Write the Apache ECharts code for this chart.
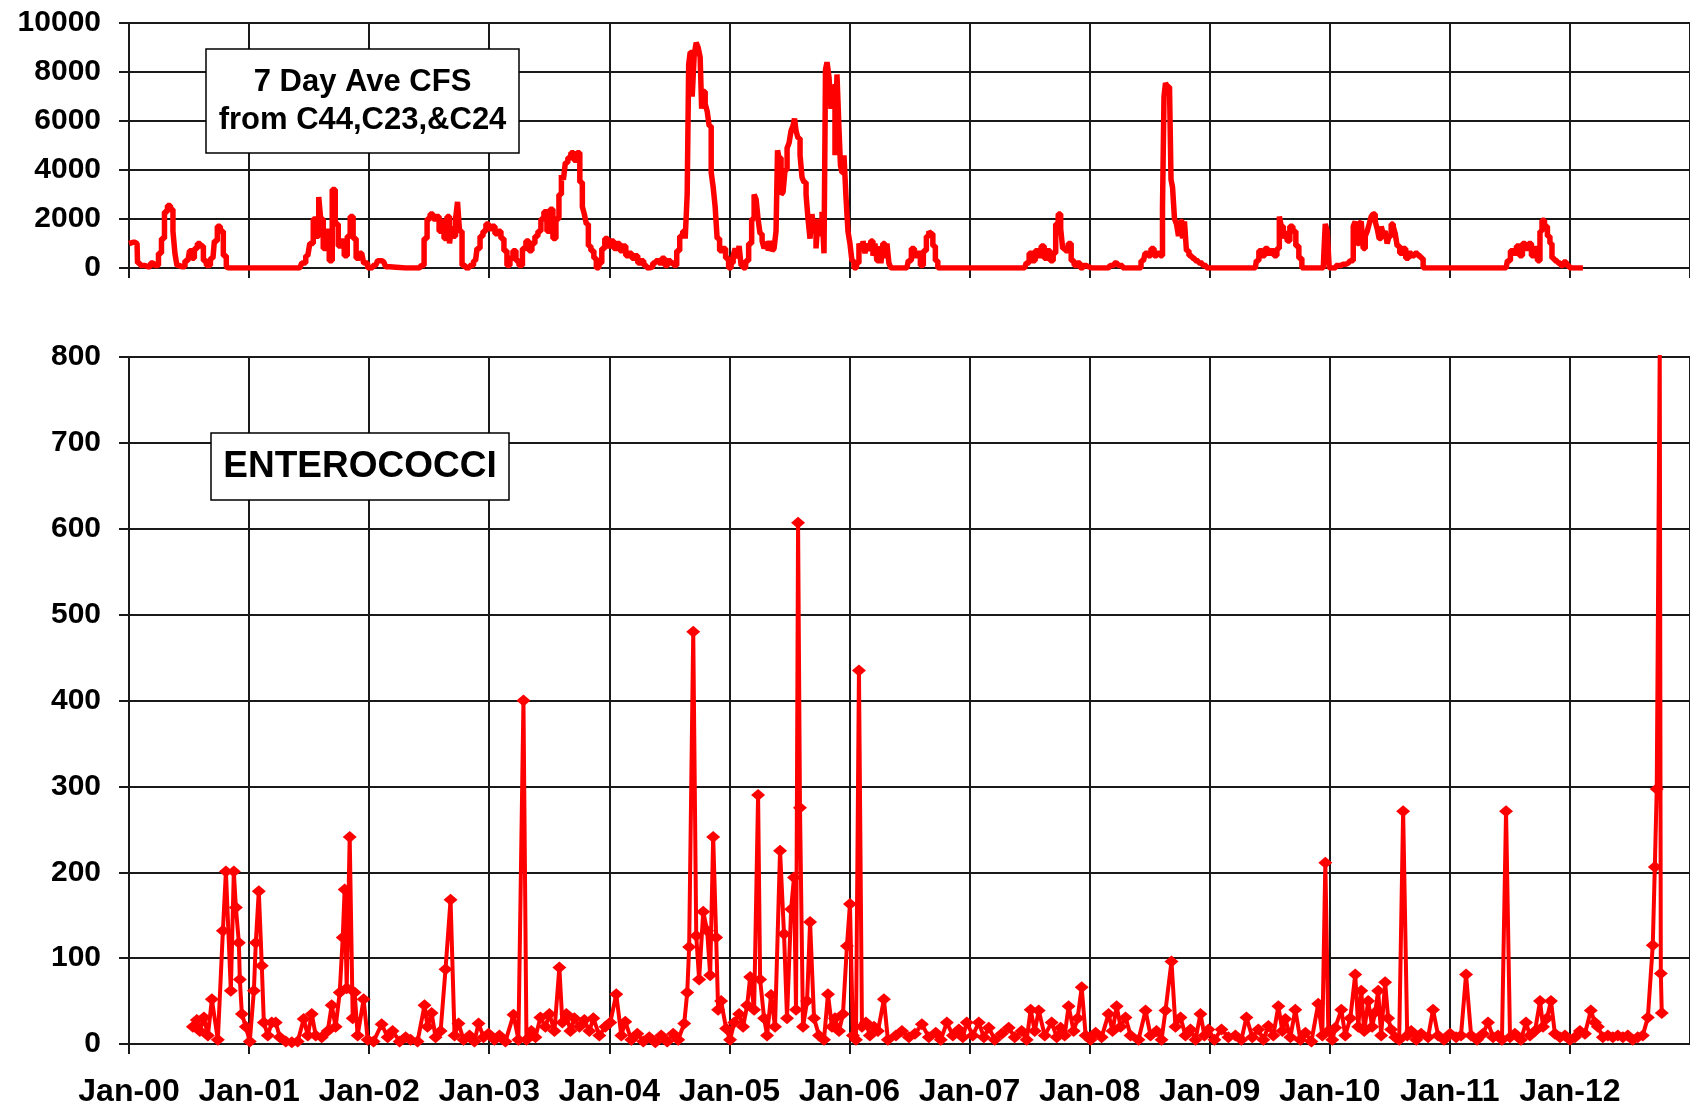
<!DOCTYPE html>
<html>
<head>
<meta charset="utf-8">
<script src="https://cdn.jsdelivr.net/npm/echarts@6/dist/echarts.min.js"></script>
<style>
html,body{margin:0;padding:0;background:#fff;}
#chart{width:1690px;height:1108px;}
</style>
</head>
<body>
<div id="chart"></div>
<script>
// ---- Data ----
// Year tick labels (x axis)
const yearTicks = [2000,2001,2002,2003,2004,2005,2006,2007,2008,2009,2010,2011,2012];

// 7 Day Ave CFS (top panel): time in decimal years, flow values
const flowYear = [
2000.000,2000.033,2000.067,2000.075,2000.108,2000.158,2000.200,2000.233,2000.258,2000.283,2000.308,2000.333,2000.358,2000.374,2000.391,2000.407,2000.441,2000.491,2000.516,2000.532,2000.557,2000.582,2000.607,2000.632,2000.657,2000.699,2000.723,2000.748,2000.773,2000.798,2000.823,2000.832,
2001.422,2001.455,2001.489,2001.522,2001.547,2001.572,2001.588,2001.605,2001.630,2001.655,2001.680,2001.705,2001.730,2001.755,2001.780,2001.805,2001.830,2001.854,2001.879,2001.904,2001.938,2001.971,2002.004,2002.054,2002.087,2002.121,2002.154,2002.187,
2002.420,2002.445,2002.470,2002.495,2002.520,2002.545,2002.570,2002.595,2002.611,2002.636,2002.661,2002.678,2002.694,2002.711,2002.728,2002.744,2002.761,2002.786,2002.819,2002.852,2002.886,2002.911,2002.936,2002.960,2002.985,
2003.010,2003.035,2003.060,2003.085,2003.110,2003.135,2003.160,2003.185,2003.210,2003.235,2003.260,2003.293,2003.318,2003.343,2003.368,2003.393,2003.418,2003.443,2003.468,2003.493,2003.518,2003.543,2003.568,2003.593,2003.609,2003.626,2003.642,2003.667,2003.692,2003.717,2003.742,2003.767,2003.784,2003.800,2003.817,2003.834,2003.859,2003.884,2003.900,2003.925,2003.950,2003.975,
2004.000,2004.025,2004.050,2004.075,2004.100,2004.125,2004.150,2004.175,2004.200,2004.225,2004.249,2004.274,2004.299,2004.324,2004.349,2004.374,2004.399,2004.424,2004.449,2004.474,2004.499,2004.524,2004.549,2004.574,2004.599,2004.624,2004.640,2004.657,2004.665,2004.682,2004.699,2004.715,2004.732,2004.748,2004.765,2004.773,2004.790,2004.807,2004.823,2004.840,2004.857,2004.873,2004.890,2004.906,2004.931,2004.956,2004.981,
2005.006,2005.023,2005.040,2005.056,2005.073,2005.089,2005.106,2005.123,2005.148,2005.173,2005.198,2005.214,2005.231,2005.247,2005.264,2005.281,2005.297,2005.314,2005.331,2005.347,2005.364,2005.380,2005.397,2005.405,2005.422,2005.439,2005.455,2005.472,2005.489,2005.505,2005.522,2005.538,2005.547,2005.563,2005.580,2005.597,2005.613,2005.630,2005.647,2005.663,2005.680,2005.696,2005.713,2005.730,2005.746,2005.763,2005.780,2005.796,2005.805,2005.821,2005.838,2005.854,2005.871,2005.888,2005.904,2005.921,2005.929,2005.946,2005.963,2005.979,2005.996,
2006.012,2006.029,2006.046,2006.071,2006.087,2006.104,2006.121,2006.137,2006.154,2006.170,2006.187,2006.204,2006.220,2006.237,2006.254,2006.270,2006.287,2006.304,2006.320,2006.337,2006.353,2006.478,2006.503,2006.528,2006.553,2006.578,2006.603,2006.628,2006.653,2006.669,2006.686,2006.703,2006.728,2006.744,
2007.459,2007.484,2007.509,2007.534,2007.559,2007.584,2007.609,2007.634,2007.659,2007.684,2007.709,2007.726,2007.751,2007.767,2007.784,2007.809,2007.834,2007.859,2007.884,2007.909,2007.934,2007.958,2007.992,2008.017,
2008.158,2008.183,2008.225,2008.258,2008.291,2008.407,2008.449,2008.474,2008.499,2008.524,2008.549,2008.574,2008.599,2008.615,2008.624,2008.640,2008.657,2008.674,2008.682,2008.699,2008.715,2008.732,2008.748,2008.765,2008.782,2008.798,2008.815,2008.840,2008.865,2008.890,2008.923,2008.956,2008.990,
2009.380,2009.397,2009.422,2009.447,2009.472,2009.497,2009.522,2009.547,2009.572,2009.588,2009.605,2009.622,2009.638,2009.655,2009.680,2009.705,2009.730,2009.755,2009.780,2009.946,2009.954,2009.971,2009.987,
2010.004,2010.029,2010.071,2010.112,2010.154,2010.187,2010.204,2010.220,2010.237,2010.254,2010.270,2010.287,2010.304,2010.320,2010.337,2010.353,2010.370,2010.387,2010.403,2010.420,2010.437,2010.453,2010.470,2010.486,2010.503,2010.520,2010.537,2010.553,2010.570,2010.595,2010.620,2010.645,2010.670,2010.695,2010.720,2010.744,2010.769,2010.786,
2011.468,2011.492,2011.517,2011.542,2011.567,2011.592,2011.617,2011.642,2011.667,2011.692,2011.717,2011.742,2011.759,2011.776,2011.800,2011.825,2011.842,2011.859,2011.884,2011.909,2011.934,2011.959,2011.983,2012.008,2012.108
];
const flowCfs = [
1000,1050,1000,200,100,50,200,100,600,1200,2300,2550,2400,1500,600,100,50,300,700,400,800,1000,900,300,100,400,1100,1700,1500,500,50,0,
0,200,500,1000,2000,1300,2900,2000,800,1500,300,3200,1800,900,1100,500,1300,2100,1200,400,600,200,0,100,300,250,50,0,
0,100,1200,2000,2200,2000,2100,1500,1900,1200,2100,1000,1700,1300,2000,2700,1500,100,0,100,300,800,1300,1500,1800,
1600,1700,1400,1500,1200,700,100,400,700,300,100,800,1100,700,1000,1300,1500,2000,2300,1500,2400,1200,2000,3000,3800,3600,4300,4500,4700,4400,4700,3500,2500,2200,1800,900,700,400,0,200,800,1200,
900,1100,800,1000,700,900,500,600,400,500,200,300,100,0,50,200,300,200,400,100,300,200,100,700,1300,1500,1200,3000,8300,8800,7000,8700,9200,9000,8600,6500,7200,6700,6400,5800,3900,3300,2500,1200,700,800,400,
0,200,500,800,400,900,100,0,300,1000,2000,3000,2800,2000,1400,1100,800,1000,700,1100,700,800,1500,4800,4500,3000,3100,4000,4900,5100,5600,5800,6100,5600,5300,4600,3700,3500,3000,2000,1200,2200,1500,800,2000,1400,2300,600,8100,8400,7800,6500,7400,4600,7900,5700,4200,3900,4600,2900,1500,
1000,300,0,200,1000,800,1100,600,1000,700,1100,500,1000,300,900,200,1000,400,1000,200,0,0,300,800,500,600,100,700,1300,1500,1400,900,300,0,
0,200,600,300,700,500,900,400,700,300,600,1800,2200,1600,800,700,1000,300,100,200,0,100,50,0,
0,100,200,100,0,0,300,600,500,800,500,600,500,2500,7000,7550,7400,7300,3600,3300,2000,1800,1300,1900,1200,1900,700,500,400,300,200,100,0,
0,300,700,500,800,600,700,500,800,2100,1700,1200,1500,1100,1700,1500,900,400,0,0,500,1800,1500,
0,0,100,150,200,300,1700,1900,1000,1800,1900,800,1300,1500,1800,2100,2200,1900,1600,1200,1700,1400,1500,1000,1300,1800,1700,1400,900,600,800,400,600,500,600,500,400,0,
0,300,700,600,900,500,1000,800,1000,500,800,300,1500,1950,1700,1300,1000,400,300,200,100,250,100,0,0
];

// ENTEROCOCCI (bottom panel): sample time in decimal years, counts
const enteroYear = [
2000.532,2000.565,2000.590,2000.624,2000.657,2000.690,2000.740,2000.782,2000.807,2000.848,2000.873,2000.890,2000.915,2000.923,2000.940,2000.973,
2001.006,2001.040,2001.056,2001.081,2001.106,2001.123,2001.156,2001.189,2001.222,2001.256,2001.306,2001.356,2001.405,2001.455,2001.489,2001.522,2001.555,2001.605,2001.655,2001.688,2001.721,2001.755,2001.780,2001.796,2001.813,2001.838,2001.863,2001.879,2001.904,2001.954,2001.988,
2002.037,2002.104,2002.154,2002.195,2002.254,2002.304,2002.345,2002.403,2002.461,2002.486,2002.520,2002.553,2002.595,2002.636,2002.678,2002.711,2002.744,2002.786,2002.836,2002.877,2002.911,2002.952,2002.994,
2003.044,2003.085,2003.135,2003.202,2003.243,2003.285,2003.310,2003.351,2003.385,2003.426,2003.468,2003.501,2003.543,2003.584,2003.609,2003.642,2003.676,2003.709,2003.751,2003.792,2003.834,2003.867,2003.917,2003.967,
2004.008,2004.058,2004.100,2004.133,2004.183,2004.233,2004.283,2004.333,2004.383,2004.432,2004.482,2004.532,2004.574,2004.624,2004.649,2004.665,2004.699,2004.724,2004.748,2004.782,2004.815,2004.840,2004.865,2004.890,2004.906,2004.931,2004.973,
2005.006,2005.040,2005.081,2005.114,2005.148,2005.173,2005.206,2005.239,2005.256,2005.289,2005.314,2005.347,2005.380,2005.422,2005.455,2005.480,2005.514,2005.538,2005.555,2005.572,2005.588,2005.613,2005.647,2005.672,2005.705,2005.746,2005.788,2005.821,2005.854,2005.879,2005.913,2005.946,2005.979,
2006.004,2006.029,2006.054,2006.079,2006.104,2006.137,2006.170,2006.204,2006.237,2006.287,2006.320,2006.387,2006.437,2006.495,2006.545,2006.603,2006.661,2006.719,2006.761,2006.811,2006.861,2006.911,2006.944,2006.977,
2007.027,2007.077,2007.119,2007.160,2007.210,2007.268,2007.326,2007.376,2007.434,2007.476,2007.509,2007.543,2007.576,2007.626,2007.684,2007.726,2007.759,2007.792,2007.825,2007.867,2007.900,2007.934,2007.967,
2008.008,2008.050,2008.100,2008.158,2008.191,2008.225,2008.258,2008.299,2008.341,2008.407,2008.466,2008.507,2008.557,2008.599,2008.632,2008.682,2008.715,2008.757,2008.798,2008.840,2008.882,2008.923,2008.956,2008.990,
2009.040,2009.098,2009.156,2009.214,2009.264,2009.306,2009.355,2009.405,2009.447,2009.489,2009.530,2009.572,2009.605,2009.630,2009.672,2009.713,2009.755,2009.797,2009.847,2009.904,2009.938,2009.963,2009.988,
2010.021,2010.046,2010.096,2010.129,2010.171,2010.212,2010.237,2010.262,2010.287,2010.320,2010.353,2010.378,2010.403,2010.428,2010.461,2010.486,2010.511,2010.545,2010.578,2010.611,2010.645,2010.678,2010.720,2010.761,2010.819,2010.860,2010.902,2010.952,
2011.002,2011.052,2011.093,2011.135,2011.177,2011.226,2011.276,2011.318,2011.360,2011.401,2011.434,2011.468,2011.501,2011.542,2011.592,2011.634,2011.667,2011.709,2011.751,2011.776,2011.809,2011.842,2011.875,2011.917,2011.959,
2012.000,2012.042,2012.083,2012.125,2012.174,2012.208,2012.233,2012.274,2012.316,2012.357,2012.399,2012.441,2012.482,2012.523,2012.565,2012.607,2012.649,2012.690,2012.707,2012.723,2012.748,2012.757,2012.765
];
const enteroCount = [
20,28,15,31,10,52,5,132,201,62,201,159,118,75,35,20,
3,62,118,178,91,25,10,25,25,8,3,2,3,29,10,35,10,8,15,45,20,60,124,180,65,241,30,60,10,52,5,
3,23,8,15,3,8,5,3,45,20,36,8,15,87,168,10,24,5,10,3,24,8,12,
5,10,3,34,5,400,5,15,8,31,20,35,15,89,25,35,15,30,20,28,15,30,10,20,
25,58,10,26,5,12,3,8,2,10,3,12,5,24,60,113,480,126,75,154,132,80,241,124,40,50,18,
5,25,35,20,45,78,40,290,75,30,10,57,20,225,128,30,157,194,40,607,275,20,50,142,30,10,5,58,20,30,15,35,114,
163,10,5,435,20,25,10,20,15,52,5,10,15,8,12,23,8,13,5,25,10,17,8,25,
10,25,8,19,5,12,19,8,15,5,40,15,39,10,25,8,19,10,44,15,30,66,10,
5,13,8,35,15,44,20,31,10,5,39,10,15,5,39,96,20,31,10,17,5,35,10,17,
5,17,8,10,5,31,8,17,5,21,10,44,15,29,8,40,5,13,3,47,10,211,15,
5,19,40,10,30,81,20,62,15,50,20,37,62,10,72,30,17,8,5,271,10,15,5,12,8,40,10,5,
12,8,10,81,10,5,12,25,8,10,5,271,8,12,5,25,10,15,50,20,30,50,12,8,10,
5,8,15,12,39,25,20,8,10,8,10,8,10,5,8,10,31,115,206,297,810,82,36
];

// ---- Build chart ----
const flowData = flowYear.map((t, i) => [t, flowCfs[i]]);
const enteroData = enteroYear.map((t, i) => [t, enteroCount[i]]);

const FONT = '"Liberation Sans", Arial, sans-serif';
const GRIDC = '#1a1a1a';
const yearFmt = v => (yearTicks.indexOf(v) >= 0 ? 'Jan-' + String(v % 100).padStart(2, '0') : '');

function xAxisCfg(gridIndex, showLabels) {
  return {
    type: 'value', gridIndex: gridIndex,
    min: 2000, max: 2013, interval: 1,
    axisLine: { show: true, onZero: false, lineStyle: { color: GRIDC, width: 2 } },
    axisTick: { show: true, inside: false, length: 10, lineStyle: { color: GRIDC, width: 2 } },
    axisLabel: {
      show: showLabels, formatter: yearFmt, showMaxLabel: false,
      fontFamily: FONT, fontWeight: 'bold', fontSize: 32, color: '#000', margin: 32
    },
    splitLine: { show: true, lineStyle: { color: GRIDC, width: 2 } }
  };
}
function yAxisCfg(gridIndex, max, interval) {
  return {
    type: 'value', gridIndex: gridIndex, min: 0, max: max, interval: interval,
    axisLine: { show: true, lineStyle: { color: GRIDC, width: 2 } },
    axisTick: { show: true, inside: false, length: 10, lineStyle: { color: GRIDC, width: 2 } },
    axisLabel: { fontFamily: FONT, fontWeight: 'bold', fontSize: 30, color: '#000', margin: 28,
                 formatter: v => String(v) },
    splitLine: { show: true, lineStyle: { color: GRIDC, width: 2 } }
  };
}

const chart = echarts.init(document.getElementById('chart'), null, { renderer: 'canvas' });
chart.setOption({
  backgroundColor: '#ffffff',
  animation: false,
  grid: [
    { left: 129, top: 23, width: 1563, height: 245 },
    { left: 129, top: 357, width: 1563, height: 688 }
  ],
  xAxis: [xAxisCfg(0, false), xAxisCfg(1, true)],
  yAxis: [yAxisCfg(0, 10000, 2000), yAxisCfg(1, 800, 100)],
  series: [
    {
      name: '7 Day Ave CFS', type: 'line', xAxisIndex: 0, yAxisIndex: 0,
      data: flowData, showSymbol: false, symbol: 'none', step: 'middle',
      lineStyle: { color: '#ff0000', width: 5.5, join: 'bevel' }, z: 5
    },
    {
      name: 'ENTEROCOCCI', type: 'line', xAxisIndex: 1, yAxisIndex: 1,
      data: enteroData, symbol: 'diamond', symbolSize: [14, 12], showSymbol: true,
      showAllSymbol: true,
      itemStyle: { color: '#ff0000' },
      lineStyle: { color: '#ff0000', width: 4, join: 'bevel' }, z: 5
    }
  ],
  graphic: [
    { type: 'rect', shape: { x: 206, y: 49, width: 313, height: 104 },
      style: { fill: '#ffffff', stroke: '#000000', lineWidth: 1.5 }, z: 100 },
    { type: 'text', x: 362.5, y: 101,
      style: { text: '7 Day Ave CFS\nfrom C44,C23,&C24', font: 'bold 31px ' + FONT,
               textAlign: 'center', textVerticalAlign: 'middle', lineHeight: 38, fill: '#000' }, z: 101 },
    { type: 'rect', shape: { x: 211, y: 433, width: 298, height: 67 },
      style: { fill: '#ffffff', stroke: '#000000', lineWidth: 1.5 }, z: 100 },
    { type: 'text', x: 360, y: 467,
      style: { text: 'ENTEROCOCCI', font: 'bold 37px ' + FONT,
               textAlign: 'center', textVerticalAlign: 'middle', fill: '#000' }, z: 101 }
  ]
});
</script>
</body>
</html>
